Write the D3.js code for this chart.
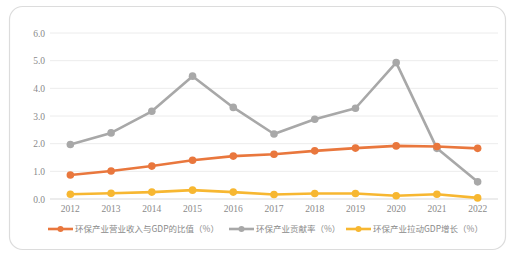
<!DOCTYPE html>
<html><head><meta charset="utf-8">
<script src="https://cdn.jsdelivr.net/npm/d3@7"></script>
<style>html,body{margin:0;padding:0;background:#fff;}svg{display:block;}</style>
</head><body>
<svg id="c" width="510" height="257"></svg>
<script>
const years = ["2012","2013","2014","2015","2016","2017","2018","2019","2020","2021","2022"];
const revenueRatio = [0.87,1.01,1.19,1.40,1.55,1.62,1.74,1.84,1.92,1.90,1.83];
const contribution = [1.97,2.39,3.17,4.44,3.31,2.35,2.88,3.28,4.93,1.83,0.62];
const gdpPull = [0.17,0.21,0.25,0.32,0.25,0.16,0.20,0.20,0.12,0.17,0.04];
const yTicks = [0,1,2,3,4,5,6];
const seriesNames = ["环保产业营业收入与GDP的比值（%）","环保产业贡献率（%）","环保产业拉动GDP增长（%）"];
const colors = ["#E9773D","#A8A8A8","#F7B731"];

const svg = d3.select("#c");
svg.append("rect").attr("x",9.5).attr("y",6.5).attr("width",496).attr("height",243)
  .attr("rx",13).attr("fill","#fff").attr("stroke","#dcdcdc").attr("stroke-width",1.2);

const x = d3.scaleBand().domain(years).range([50,498]);
const y = d3.scaleLinear().domain([0,6]).range([199,33]);

const grid = svg.append("g");
yTicks.forEach(t=>{
  grid.append("line").attr("x1",50).attr("x2",498).attr("y1",y(t)).attr("y2",y(t))
    .attr("stroke",t===0?"#d9d9d9":"#ececec").attr("stroke-width",1);
});
const yAxis = svg.append("g").attr("transform","translate(45,0)")
  .call(d3.axisLeft(y).tickValues(yTicks).tickFormat(d3.format(".1f")).tickSize(0).tickPadding(0));
yAxis.select(".domain").remove();
yAxis.selectAll("text").attr("font-family","Liberation Serif, serif").attr("font-size",9.5).attr("fill","#8a8a8a");

const xAxis = svg.append("g").attr("transform","translate(0,203)")
  .call(d3.axisBottom(x).tickSize(0).tickPadding(2));
xAxis.select(".domain").remove();
xAxis.selectAll("text").attr("font-family","Liberation Serif, serif").attr("font-size",9.5).attr("fill","#8a8a8a");

const all = [revenueRatio, contribution, gdpPull];
const line = d3.line().x((d,i)=>x(years[i])+x.bandwidth()/2).y(d=>y(d));
[1,0,2].forEach(k=>{
  const g = svg.append("g");
  g.append("path").attr("d",line(all[k])).attr("fill","none").attr("stroke",colors[k]).attr("stroke-width",2.6).attr("stroke-linejoin","round");
  g.selectAll("circle").data(all[k]).join("circle")
    .attr("cx",(d,i)=>x(years[i])+x.bandwidth()/2).attr("cy",d=>y(d)).attr("r",3.8).attr("fill",colors[k]);
});

const legX = [48,229,346];
const leg = svg.append("g");
seriesNames.forEach((n,k)=>{
  const lx = legX[k], ly = 229;
  leg.append("line").attr("x1",lx).attr("x2",lx+25).attr("y1",ly).attr("y2",ly).attr("stroke",colors[k]).attr("stroke-width",2.6);
  leg.append("circle").attr("cx",lx+12.5).attr("cy",ly).attr("r",3).attr("fill",colors[k]);
  leg.append("text").attr("x",lx+27).attr("y",ly+3.2).text(n)
    .attr("font-family","Noto Sans CJK SC, sans-serif").attr("font-size",8.5).attr("fill","#8a8a8a");
});
</script>
</body></html>
